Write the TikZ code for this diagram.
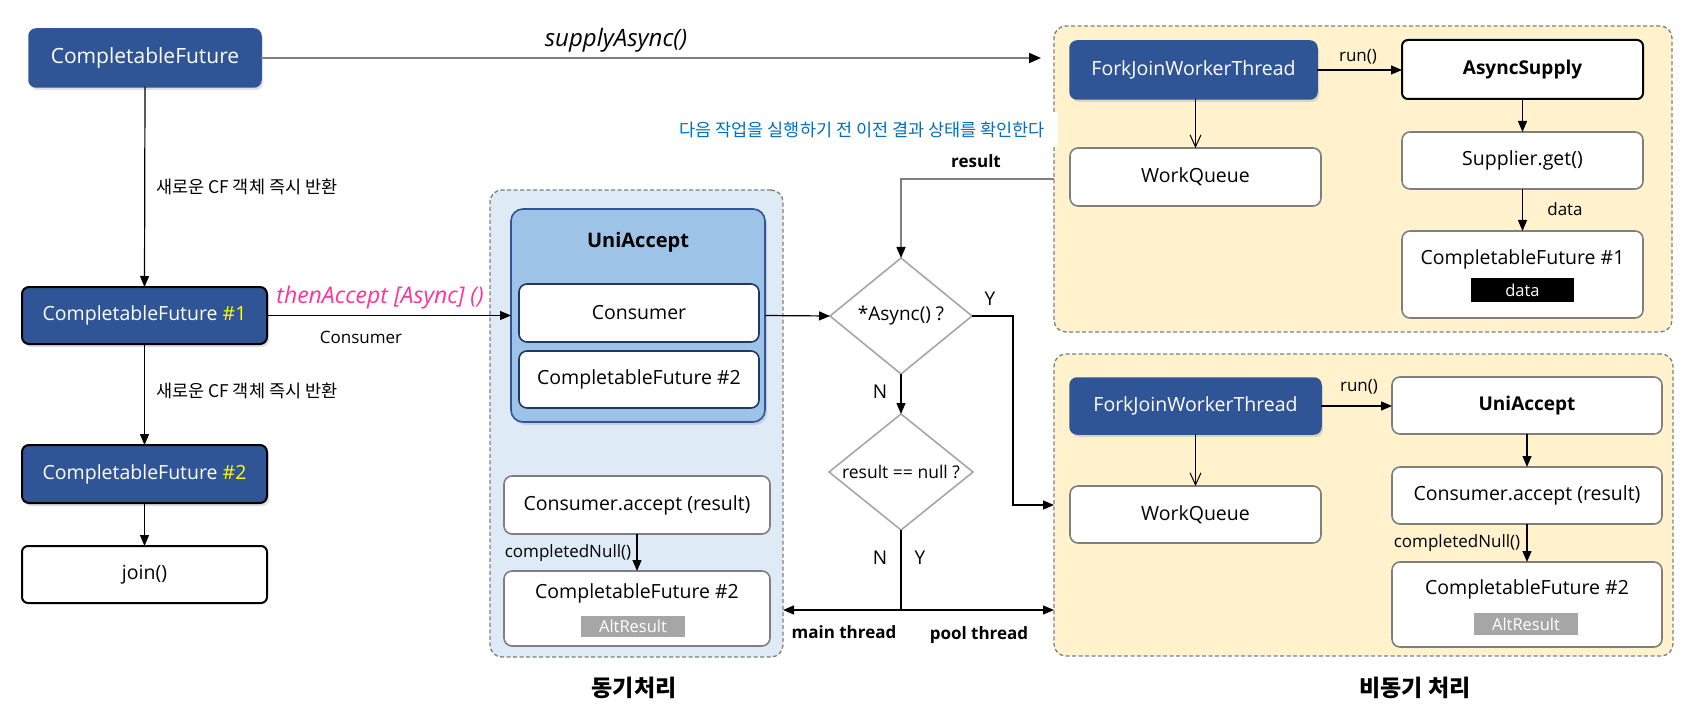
\documentclass[tikz,border=0pt]{standalone}
\usepackage{fontspec}
\setmainfont{Open Sans}
\newfontfamily\kr{Noto Sans CJK KR}
\usetikzlibrary{shapes.geometric,arrows.meta,shadows,calc}
\definecolor{dblue}{HTML}{2F5597}
\definecolor{ibord}{HTML}{1F3864}
\definecolor{lblue}{HTML}{9DC3E6}
\definecolor{syncbg}{HTML}{DEEBF7}
\definecolor{asyncbg}{HTML}{FFF2CC}
\definecolor{gline}{HTML}{7F7F7F}
\definecolor{dgray}{HTML}{A6A6A6}
\definecolor{hiyel}{HTML}{FFFF00}
\definecolor{pinkc}{HTML}{FF3399}
\definecolor{bluet}{HTML}{0070C0}
\begin{document}
\begin{tikzpicture}[x=1pt,y=-1pt,
  every node/.style={inner sep=0pt, outer sep=0pt},
  fs/.style={font=\fontsize{19.5pt}{23pt}\selectfont},
  fsb/.style={font=\fontsize{19pt}{23pt}\selectfont\bfseries},
  lbl/.style={font=\fontsize{17pt}{20pt}\selectfont},
  lblb/.style={font=\fontsize{17pt}{20pt}\selectfont\bfseries},
  klbl/.style={font=\fontsize{17.5pt}{21pt}\selectfont\kr},
  ttl/.style={font=\fontsize{23pt}{26pt}\selectfont\kr\bfseries},
  shd/.style={drop shadow={opacity=0.25, shadow xshift=2pt, shadow yshift=-3pt}},
  bbox/.style={rectangle, rounded corners=7pt, fill=dblue, draw=dblue, line width=1.5pt, text=white, fs, shd},
  bboxk/.style={bbox, draw=black, line width=2pt},
  kbox/.style={rectangle, rounded corners=6pt, fill=white, draw=black, line width=2pt, fs},
  gbox/.style={rectangle, rounded corners=8pt, fill=white, draw=gline, line width=1.6pt, fs},
  ibox/.style={rectangle, rounded corners=8pt, fill=white, draw=ibord, line width=1.6pt, fs},
  region/.style={rectangle, rounded corners=12pt, dashed, dash pattern=on 4pt off 2.5pt, draw=gline, line width=1.3pt},
  tag/.style={rectangle, text=white, font=\fontsize{16.5pt}{19pt}\selectfont},
  dia/.style={diamond, draw=dgray, line width=1.6pt, fill=white, aspect=1.22},
  conn/.style={draw=black, line width=1.2pt, -{Triangle[length=11pt,width=9pt]}},
  vconn/.style={draw=black, line width=1pt, -{Straight Barb[length=12pt,width=11pt]}},
  gconn/.style={draw=gline, line width=2pt, -{Triangle[length=12pt,width=10pt,color=black,fill=black]}},
  rconn/.style={draw=gline, line width=1.6pt, -{Triangle[length=11pt,width=9pt,color=black,fill=black]}},
  yn/.style={font=\fontsize{19pt}{22pt}\selectfont}
]
\useasboundingbox (0,0) rectangle (1704,727);

% ---------- left column ----------
\node[bbox, minimum width=232pt, minimum height=58pt, font=\fontsize{21pt}{24pt}\selectfont] (cf0) at (145,58) {CompletableFuture};
\node[bboxk, minimum width=245pt, minimum height=57pt] (cf1) at (144.5,315.5) {CompletableFuture {\color{hiyel}\#1}};
\node[bboxk, minimum width=245pt, minimum height=58pt] (cf2) at (144.5,474) {CompletableFuture {\color{hiyel}\#2}};
\node[kbox, minimum width=245pt, minimum height=57pt] (join) at (144.5,574.5) {join()};

\draw[conn] (cf0.south) -- (cf1.north);
\draw[conn] (cf1.south) -- (cf2.north);
\draw[conn] (cf2.south) -- (join.north);
\node[klbl, anchor=west] (k1) at (156,187) {새로운 CF 객체 즉시 반환};
\node[klbl, anchor=west] (k2) at (156,391) {새로운 CF 객체 즉시 반환};

% ---------- sync region ----------
\node[region, fill=syncbg, minimum width=293pt, minimum height=467pt] (syncR) at (636.5,423.5) {};
\node[rectangle, rounded corners=12pt, fill=lblue, draw=dblue, line width=1.6pt, shd, minimum width=254pt, minimum height=213pt] (ua) at (638,315.5) {};
\node[font=\fontsize{20pt}{23pt}\selectfont\bfseries] (uat) at (638,242) {UniAccept};
\node[ibox, minimum width=240pt, minimum height=58pt] (cons) at (639,313) {Consumer};
\node[ibox, minimum width=240pt, minimum height=57pt] (cfa) at (639,379.5) {CompletableFuture \#2};
\node[gbox, minimum width=266pt, minimum height=58pt] (acc) at (637,505) {Consumer.accept (result)};
\node[gbox, minimum width=266pt, minimum height=75pt] (cfs) at (637,608.5) {};
\node[fs] (cfst) at (637,593) {CompletableFuture \#2};
\node[tag, fill=dgray, minimum width=104pt, minimum height=21pt] (alt1) at (633,626.5) {AltResult};
\draw[conn] (acc.south) -- (cfs.north);
\node[lbl] (cn1) at (568,553) {completedNull()};
\node[ttl] (t1) at (634,688) {동기처리};

% ---------- calls ----------
\draw[conn] (cf1.east) -- (ua.west);
\node[font=\fontsize{23pt}{26pt}\selectfont\itshape, text=pinkc] (ta) at (380,298) {thenAccept [Async] ()};
\node[lbl] (cl) at (361,337) {Consumer};

% ---------- async region 1 ----------
\node[region, fill=asyncbg, minimum width=618pt, minimum height=306pt] (y1) at (1363,179) {};
\node[bbox, minimum width=247pt, minimum height=58pt] (fj1) at (1193.5,70) {ForkJoinWorkerThread};
\node[kbox, fsb, minimum width=241pt, minimum height=59pt] (as) at (1522.5,69.5) {AsyncSupply};
\node[gbox, minimum width=251pt, minimum height=58pt] (wq1) at (1195.5,177) {WorkQueue};
\node[gbox, minimum width=241pt, minimum height=57pt] (sg) at (1522.5,160.5) {Supplier.get()};
\node[gbox, minimum width=241pt, minimum height=87pt] (cfr1) at (1522.5,274.5) {};
\node[fs] (cfr1t) at (1522.5,259) {CompletableFuture \#1};
\node[tag, fill=black, minimum width=103pt, minimum height=24pt] (dt) at (1522.5,290) {data};
\draw[conn] (fj1.east) -- (fj1.east -| as.west);
\node[lbl] (r1) at (1358,57) {run()};
\draw[vconn] (fj1.south -| wq1.north) -- (wq1.north);
\draw[conn] (as.south) -- (sg.north);
\draw[conn] (sg.south) -- (cfr1.north);
\node[lbl] (dl) at (1565,209) {data};

% supplyAsync arrow
\draw[gconn, shorten >=13pt] (cf0.east) -- (cf0.east -| y1.west);
\node[font=\fontsize{24pt}{27pt}\selectfont\itshape] (sa) at (616,40) {supplyAsync()};

% blue note
\node[klbl, text=bluet, fill=white, anchor=east, inner xsep=13pt, minimum height=35pt] (note) at (1058,130) {다음 작업을 실행하기 전 이전 결과 상태를 확인한다};

% ---------- async region 2 ----------
\node[region, fill=asyncbg, minimum width=619pt, minimum height=302pt] (y2) at (1363.5,505) {};
\node[bbox, minimum width=251pt, minimum height=56pt] (fj2) at (1195.5,406) {ForkJoinWorkerThread};
\node[gbox, fsb, minimum width=270pt, minimum height=57pt] (ua2) at (1527,405.5) {UniAccept};
\node[gbox, minimum width=251pt, minimum height=57pt] (wq2) at (1195.5,514.5) {WorkQueue};
\node[gbox, minimum width=270pt, minimum height=57pt] (acc2) at (1527,495.5) {Consumer.accept (result)};
\node[gbox, minimum width=270pt, minimum height=85pt] (cfr2) at (1527,604.5) {};
\node[fs] (cfr2t) at (1527,589) {CompletableFuture \#2};
\node[tag, fill=dgray, minimum width=104pt, minimum height=22pt] (alt2) at (1526,624) {AltResult};
\draw[conn] (fj2.east) -- (fj2.east -| ua2.west);
\node[lbl] (r2) at (1359,387) {run()};
\draw[vconn] (fj2.south) -- (wq2.north);
\draw[conn] (ua2.south) -- (acc2.north);
\draw[conn] (acc2.south) -- (cfr2.north);
\node[lbl] (cn2) at (1457,543) {completedNull()};
\node[ttl] (t2) at (1415,688) {비동기 처리};

% ---------- decisions ----------
\node[dia, yn, minimum width=142pt, minimum height=116pt] (d1) at (901,316) {*Async() ?};
\node[dia, font=\fontsize{17.5pt}{21pt}\selectfont, minimum width=144pt, minimum height=116pt] (d2) at (901,472) {result == null ?};

\draw[rconn] (y1.west) -| (d1.north);
\node[lblb] (rl) at (976,161) {result};

\draw[conn] (ua.east) -- (d1.west);
\draw[conn] (d1.south) -- (d2.north);
\node[yn] (nl1) at (880,392) {N};

\coordinate (yk) at (1013,316);
\draw[conn] (d1.east) -- (yk) |- (y2.west);
\node[yn] (yl1) at (990,299) {Y};

\coordinate (jn) at (901,610);
\draw[line width=1.2pt] (d2.south) -- (jn);
\draw[conn] (jn) -- (jn -| syncR.east);
\draw[conn] (jn) -- (jn -| y2.west);
\node[yn] (nl2) at (880,558) {N};
\node[yn] (yl2) at (920,558) {Y};
\node[lblb] (mt) at (844,632) {main thread};
\node[lblb] (pt) at (979,635) {pool thread};

\end{tikzpicture}
\end{document}
